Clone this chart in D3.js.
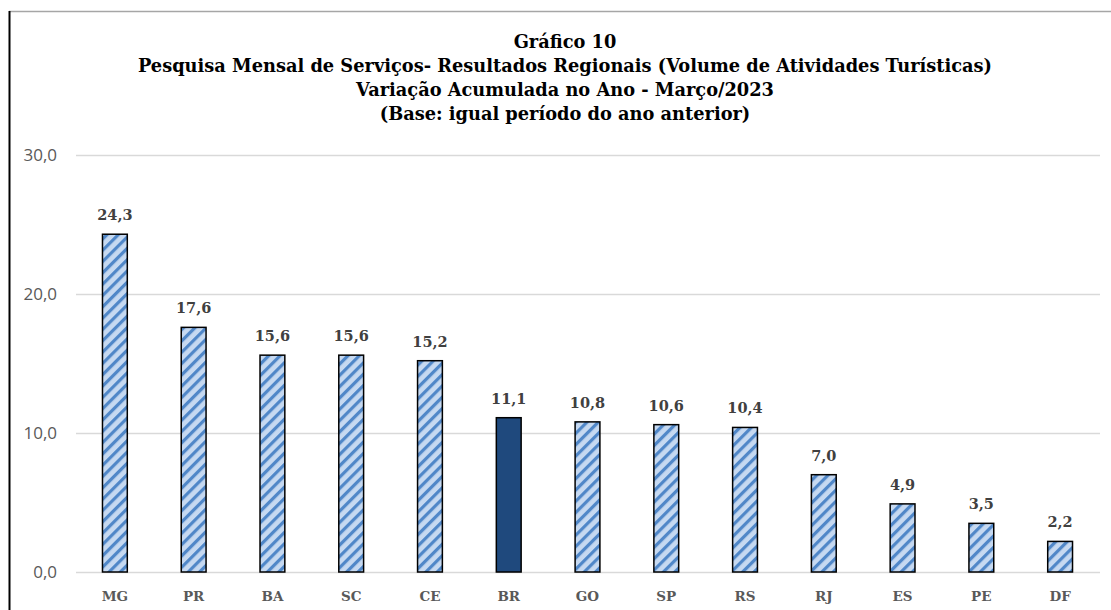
<!DOCTYPE html>
<html>
<head>
<meta charset="utf-8">
<script src="https://cdn.jsdelivr.net/npm/d3@7"></script>
<style>
  body { margin: 0; background: #fff; }
</style>
</head>
<body>
<svg width="1111" height="610"></svg>
<script>
// Data
var regions = ["MG", "PR", "BA", "SC", "CE", "BR", "GO", "SP", "RS", "RJ", "ES", "PE", "DF"];
var values = [24.3, 17.6, 15.6, 15.6, 15.2, 11.1, 10.8, 10.6, 10.4, 7.0, 4.9, 3.5, 2.2];
var yTicks = [0, 10, 20, 30];
var titleLines = [
  "Gráfico 10",
  "Pesquisa Mensal de Serviços- Resultados Regionais (Volume de Atividades Turísticas)",
  "Variação Acumulada no Ano - Março/2023",
  "(Base: igual período do ano anterior)"
];

var svg = d3.select("svg"),
  width = +svg.attr("width"),
  height = +svg.attr("height");

var serif = "'DejaVu Serif', 'Liberation Serif', serif";
var fmt = function (v) { return d3.format(".1f")(v).replace(".", ","); };

// stripe pattern
var defs = svg.append("defs");
var pat = defs.append("pattern")
  .attr("id", "stripes")
  .attr("patternUnits", "userSpaceOnUse")
  .attr("width", 8)
  .attr("height", 8)
  .attr("patternTransform", "rotate(45)");
pat.append("rect").attr("width", 8).attr("height", 8).attr("fill", "#c6d9f1");
pat.append("rect").attr("x", 0).attr("width", 3.2).attr("height", 8).attr("fill", "#5087c8");

// frame
svg.append("line").attr("x1", 9).attr("x2", width).attr("y1", 11.5).attr("y2", 11.5)
  .attr("stroke", "#a6a6a6").attr("stroke-width", 1.5);
svg.append("line").attr("x1", 9.5).attr("x2", 9.5).attr("y1", 11).attr("y2", height)
  .attr("stroke", "#000").attr("stroke-width", 2);

// scales
var x = d3.scaleBand().domain(regions).range([75.5, 1099.5]).paddingInner(0.685).paddingOuter(0.3425);
var y = d3.scaleLinear().domain([0, 30]).range([572, 155]);

// grid + y labels
var grid = svg.append("g");
grid.selectAll("line").data(yTicks).enter().append("line")
  .attr("x1", 76).attr("x2", 1100)
  .attr("y1", function (d) { return y(d) + 0.5; })
  .attr("y2", function (d) { return y(d) + 0.5; })
  .attr("stroke", "#d9d9d9").attr("stroke-width", 1.5);
grid.selectAll("text").data(yTicks).enter().append("text")
  .attr("x", 57).attr("y", function (d) { return y(d) + 6; })
  .attr("text-anchor", "end")
  .style("font-family", "'Open Sans', sans-serif")
  .style("font-size", "17px")
  .attr("fill", "#595959")
  .text(fmt);

// bars
svg.append("g").selectAll("rect").data(values).enter().append("rect")
  .attr("x", function (d, i) { return x(regions[i]); })
  .attr("y", function (d) { return y(d); })
  .attr("width", x.bandwidth())
  .attr("height", function (d) { return y(0) - y(d); })
  .attr("fill", function (d, i) { return regions[i] === "BR" ? "#1f497d" : "url(#stripes)"; })
  .attr("stroke", "#000").attr("stroke-width", 1.5);

// value labels
svg.append("g").selectAll("text").data(values).enter().append("text")
  .attr("x", function (d, i) { return x(regions[i]) + x.bandwidth() / 2; })
  .attr("y", function (d) { return y(d) - 14; })
  .attr("text-anchor", "middle")
  .style("font-family", serif).style("font-weight", "bold").style("font-size", "14.5px")
  .attr("fill", "#404040")
  .text(fmt);

// category labels
svg.append("g").selectAll("text").data(regions).enter().append("text")
  .attr("x", function (d) { return x(d) + x.bandwidth() / 2; })
  .attr("y", 601)
  .attr("text-anchor", "middle")
  .style("font-family", serif).style("font-weight", "bold").style("font-size", "13.5px")
  .attr("fill", "#595959")
  .text(function (d) { return d; });

// title
svg.append("g").selectAll("text").data(titleLines).enter().append("text")
  .attr("x", 565)
  .attr("y", function (d, i) { return 48 + i * 24; })
  .attr("text-anchor", "middle")
  .style("font-family", serif).style("font-weight", "bold").style("font-size", "17.8px")
  .attr("fill", "#000")
  .text(function (d) { return d; });
</script>
</body>
</html>
